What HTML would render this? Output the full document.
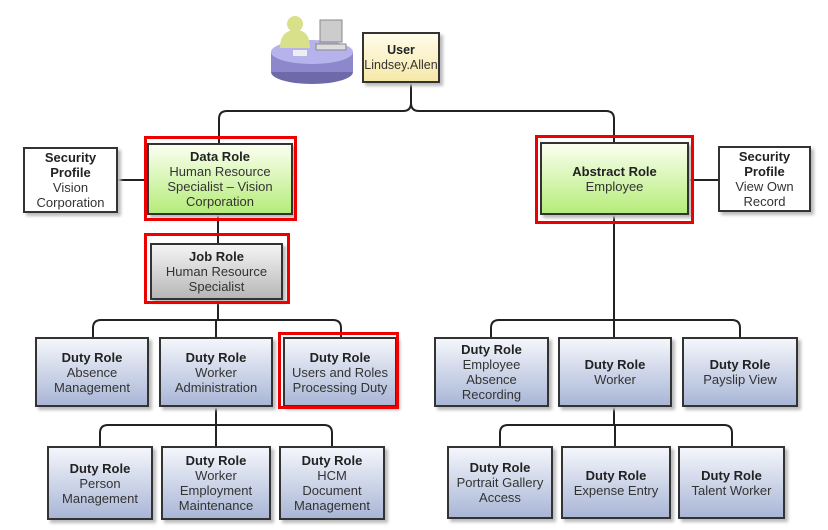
<!DOCTYPE html>
<html><head><meta charset="utf-8"><style>
body{margin:0;width:828px;height:530px;background:#fff;position:relative;overflow:hidden;font-family:"Liberation Sans",sans-serif;}
.b{position:absolute;box-sizing:border-box;border:2px solid #333;display:flex;flex-direction:column;justify-content:center;align-items:center;text-align:center;font-size:13px;line-height:15px;color:#333;box-shadow:3px 3px 3px #bbb;}
.b b{color:#222}
.d{background:linear-gradient(#f4f6fb,#a9b6d6);}
.g{background:linear-gradient(#fbfff0,#b5ec7a);}
.j{background:linear-gradient(#f4f4f4,#b7b7b7);}
.y{background:linear-gradient(#fffcea,#f6e8a8);}
.w{background:#fff;}
.r{position:absolute;box-sizing:border-box;border:3px solid #e00;}
svg{position:absolute;left:0;top:0}
</style></head><body>
<svg width="828" height="530" fill="none" stroke="#222" stroke-width="2">
<path d="M411 82V103q0 8-8 8H227q-8 0-8 8V143M411 103q0 8 8 8H606q8 0 8 8V143"/>
<path d="M118 180H147M689 180H718"/>
<path d="M218 215V243M218 300V320M93 337V328q0-8 8-8H333q8 0 8 8V337M216 320V337"/>
<path d="M216 407V425M100 446V433q0-8 8-8H324q8 0 8 8V446M216 425V446"/>
<path d="M614 215V320M491 337V328q0-8 8-8H732q8 0 8 8V337M614 320V337"/>
<path d="M614 407V425M500 446V433q0-8 8-8H724q8 0 8 8V446M615 425V446"/>
</svg>
<svg width="828" height="530" style="left:0;top:0">
<ellipse cx="312" cy="72" rx="41" ry="12" fill="#6e6aaa"/>
<rect x="271" y="52" width="82" height="20" fill="#8d88cc"/>
<ellipse cx="312" cy="52" rx="41" ry="12" fill="#b6b2ec"/>
<circle cx="295" cy="24" r="8" fill="#d8e08a"/>
<path d="M280 48q0-18 16-18q14 0 14 18z" fill="#d8e08a"/>
<rect x="320" y="20" width="22" height="22" fill="#ccc" stroke="#888"/>
<rect x="316" y="44" width="30" height="6" fill="#ddd" stroke="#888"/>
<rect x="293" y="50" width="14" height="6" fill="#eee"/>
</svg>
<div class="b y" style="left:362px;top:32px;width:78px;height:51px;font-size:12.5px;padding:0 1px"><b>User</b>Lindsey.Allen</div>
<div class="b w" style="left:23px;top:147px;width:95px;height:66px"><b>Security<br>Profile</b>Vision<br>Corporation</div>
<div class="b g" style="left:147px;top:143px;width:146px;height:72px"><b>Data Role</b>Human Resource<br>Specialist – Vision<br>Corporation</div>
<div class="r" style="left:144px;top:136px;width:153px;height:85px"></div>
<div class="b j" style="left:150px;top:243px;width:133px;height:57px"><b>Job Role</b>Human Resource<br>Specialist</div>
<div class="r" style="left:144px;top:233px;width:146px;height:71px"></div>
<div class="b d" style="left:35px;top:337px;width:114px;height:70px"><b>Duty Role</b>Absence<br>Management</div>
<div class="b d" style="left:159px;top:337px;width:114px;height:70px"><b>Duty Role</b>Worker<br>Administration</div>
<div class="b d" style="left:283px;top:337px;width:114px;height:70px"><b>Duty Role</b>Users and Roles<br>Processing Duty</div>
<div class="r" style="left:278px;top:332px;width:121px;height:77px"></div>
<div class="b d" style="left:47px;top:446px;width:106px;height:74px"><b>Duty Role</b>Person<br>Management</div>
<div class="b d" style="left:161px;top:446px;width:110px;height:74px"><b>Duty Role</b>Worker<br>Employment<br>Maintenance</div>
<div class="b d" style="left:279px;top:446px;width:106px;height:74px"><b>Duty Role</b>HCM<br>Document<br>Management</div>
<div class="b g" style="left:540px;top:142px;width:149px;height:73px;justify-content:flex-start;padding-top:20px"><b>Abstract Role</b>Employee</div>
<div class="r" style="left:535px;top:135px;width:159px;height:89px"></div>
<div class="b w" style="left:718px;top:146px;width:93px;height:66px"><b>Security<br>Profile</b>View Own<br>Record</div>
<div class="b d" style="left:434px;top:337px;width:115px;height:70px"><b>Duty Role</b>Employee<br>Absence<br>Recording</div>
<div class="b d" style="left:558px;top:337px;width:114px;height:70px"><b>Duty Role</b>Worker</div>
<div class="b d" style="left:682px;top:337px;width:116px;height:70px"><b>Duty Role</b>Payslip View</div>
<div class="b d" style="left:447px;top:446px;width:106px;height:73px"><b>Duty Role</b>Portrait Gallery<br>Access</div>
<div class="b d" style="left:561px;top:446px;width:110px;height:73px"><b>Duty Role</b>Expense Entry</div>
<div class="b d" style="left:678px;top:446px;width:107px;height:73px"><b>Duty Role</b>Talent Worker</div>
</body></html>
